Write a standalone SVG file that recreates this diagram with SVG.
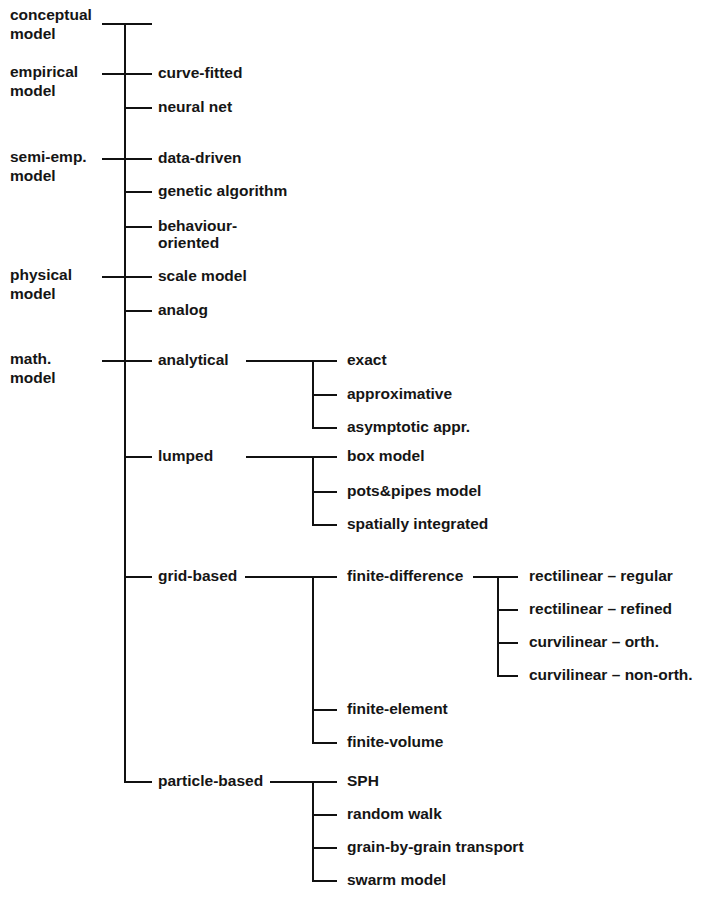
<svg xmlns="http://www.w3.org/2000/svg" width="704" height="899" viewBox="0 0 704 899">
<style>
text{font-family:"Liberation Sans",Arial,sans-serif;font-weight:bold;font-size:15.5px;fill:#151515}
.c line{stroke:#111;stroke-width:2;stroke-linecap:butt}
</style>
<rect width="704" height="899" fill="#fff"/>
<g class="c" id="connectors">
<line x1="125" y1="23" x2="125" y2="783"/>
<line x1="102" y1="24" x2="152" y2="24"/>
<line x1="102" y1="74" x2="152" y2="74"/>
<line x1="125" y1="108" x2="152" y2="108"/>
<line x1="102" y1="159" x2="152" y2="159"/>
<line x1="125" y1="192" x2="152" y2="192"/>
<line x1="125" y1="227" x2="152" y2="227"/>
<line x1="102" y1="277" x2="152" y2="277"/>
<line x1="125" y1="311" x2="152" y2="311"/>
<line x1="102" y1="361" x2="152" y2="361"/>
<line x1="125" y1="457" x2="152" y2="457"/>
<line x1="125" y1="577" x2="152" y2="577"/>
<line x1="124" y1="782" x2="152" y2="782"/>
<line x1="246" y1="361" x2="337" y2="361"/>
<line x1="313" y1="361" x2="313" y2="429"/>
<line x1="313" y1="395" x2="337" y2="395"/>
<line x1="312" y1="428" x2="337" y2="428"/>
<line x1="246" y1="457" x2="337" y2="457"/>
<line x1="313" y1="457" x2="313" y2="526"/>
<line x1="313" y1="492" x2="337" y2="492"/>
<line x1="312" y1="525" x2="337" y2="525"/>
<line x1="245" y1="577" x2="337" y2="577"/>
<line x1="313" y1="577" x2="313" y2="744"/>
<line x1="313" y1="710" x2="337" y2="710"/>
<line x1="312" y1="743" x2="337" y2="743"/>
<line x1="473" y1="577" x2="518" y2="577"/>
<line x1="498" y1="577" x2="498" y2="677"/>
<line x1="498" y1="610" x2="518" y2="610"/>
<line x1="498" y1="643" x2="518" y2="643"/>
<line x1="497" y1="676" x2="518" y2="676"/>
<line x1="270" y1="782" x2="337" y2="782"/>
<line x1="313" y1="782" x2="313" y2="882"/>
<line x1="313" y1="815" x2="337" y2="815"/>
<line x1="313" y1="848" x2="337" y2="848"/>
<line x1="312" y1="881" x2="337" y2="881"/>
</g>
<g id="conceptual"><text x="10" y="20">conceptual</text><text x="10" y="39">model</text></g>
<g id="empirical"><text x="10" y="77">empirical</text><text x="10" y="96">model</text></g>
<g id="semiemp"><text x="10" y="162">semi-emp.</text><text x="10" y="181">model</text></g>
<g id="physical"><text x="10" y="280">physical</text><text x="10" y="299">model</text></g>
<g id="math"><text x="10" y="364">math.</text><text x="10" y="383">model</text></g>
<g id="curve"><text x="158" y="78">curve-fitted</text></g>
<g id="neural"><text x="158" y="112">neural net</text></g>
<g id="datadriven"><text x="158" y="163">data-driven</text></g>
<g id="genetic"><text x="158" y="196">genetic algorithm</text></g>
<g id="behaviour"><text x="158" y="231">behaviour-</text><text x="158" y="248">oriented</text></g>
<g id="scale"><text x="158" y="281">scale model</text></g>
<g id="analog"><text x="158" y="315">analog</text></g>
<g id="analytical"><text x="158" y="365">analytical</text></g>
<g id="lumped"><text x="158" y="461">lumped</text></g>
<g id="grid"><text x="158" y="581">grid-based</text></g>
<g id="particle"><text x="158" y="786">particle-based</text></g>
<g id="exact"><text x="347" y="365">exact</text></g>
<g id="approx"><text x="347" y="399">approximative</text></g>
<g id="asym"><text x="347" y="432">asymptotic appr.</text></g>
<g id="box"><text x="347" y="461">box model</text></g>
<g id="pots"><text x="347" y="496">pots&amp;pipes model</text></g>
<g id="spatial"><text x="347" y="529">spatially integrated</text></g>
<g id="fd"><text x="347" y="581">finite-difference</text></g>
<g id="fe"><text x="347" y="714">finite-element</text></g>
<g id="fv"><text x="347" y="747">finite-volume</text></g>
<g id="rr"><text x="529" y="581">rectilinear – regular</text></g>
<g id="rf"><text x="529" y="614">rectilinear – refined</text></g>
<g id="co"><text x="529" y="647">curvilinear – orth.</text></g>
<g id="cn"><text x="529" y="680">curvilinear – non-orth.</text></g>
<g id="sph"><text x="347" y="786">SPH</text></g>
<g id="rw"><text x="347" y="819">random walk</text></g>
<g id="gbg"><text x="347" y="852">grain-by-grain transport</text></g>
<g id="swarm"><text x="347" y="885">swarm model</text></g>
</svg>
